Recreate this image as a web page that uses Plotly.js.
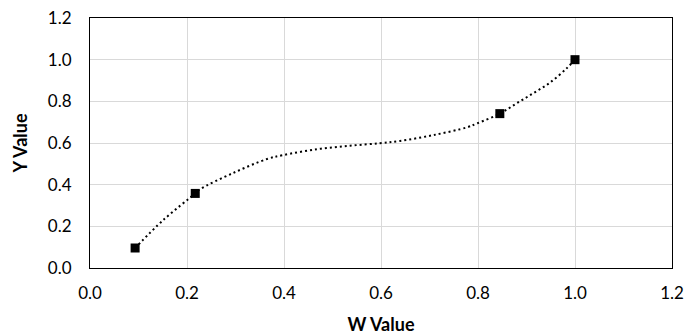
<!DOCTYPE html>
<html>
<head>
<meta charset="utf-8">
<script src="https://cdn.plot.ly/plotly-3.0.1.min.js"></script>
<style>html,body{margin:0;padding:0;background:#fff;}#chart{width:686px;height:335px;}</style>
</head>
<body>
<div id="chart"></div>
<script>
// Measured data points
var wValues = [0.093, 0.217, 0.845, 1.0];
var yValues = [0.096, 0.358, 0.741, 1.0];

// Dotted trendline
var trendW = [0.093, 0.151, 0.217, 0.227, 0.295, 0.365, 0.398, 0.468, 0.536, 0.598, 0.639, 0.708, 0.777, 0.799, 0.845, 0.880, 0.914, 0.948, 0.983, 1.0];
var trendY = [0.096, 0.230, 0.358, 0.378, 0.456, 0.523, 0.542, 0.570, 0.587, 0.599, 0.610, 0.638, 0.675, 0.695, 0.741, 0.791, 0.839, 0.889, 0.959, 1.0];

// Axis ticks
var tickVals = [0, 0.2, 0.4, 0.6, 0.8, 1.0, 1.2];
var tickText = ["0.0", "0.2", "0.4", "0.6", "0.8", "1.0", "1.2"];

var font = "Lato, 'Open Sans', sans-serif";

var traces = [
  {
    x: trendW, y: trendY, mode: "lines", type: "scatter",
    line: {color: "#000", width: 2, dash: "2px,3px", shape: "spline"},
    hoverinfo: "skip", showlegend: false
  },
  {
    x: wValues, y: yValues, mode: "markers", type: "scatter",
    marker: {symbol: "square", size: 9, color: "#000"},
    showlegend: false
  }
];

var axisCommon = {
  range: [0, 1.2],
  tickvals: tickVals,
  ticktext: tickText,
  showgrid: true,
  gridcolor: "#d9d9d9",
  gridwidth: 1,
  zeroline: false,
  showline: true,
  linecolor: "#000",
  linewidth: 1,
  mirror: true,
  ticks: "",
  tickfont: {family: font, size: 17, color: "#000"}
};

var layout = {
  width: 686, height: 335,
  margin: {l: 90, r: 14, t: 18, b: 67},
  paper_bgcolor: "#fff", plot_bgcolor: "#fff",
  showlegend: false,
  xaxis: Object.assign({}, axisCommon, {
    ticklabelstandoff: 10,
    title: {text: "<b>W Value</b>", font: {family: font, size: 18, color: "#000"}, standoff: 15}
  }),
  yaxis: Object.assign({}, axisCommon, {
    ticklabelstandoff: 14,
    title: {text: "<b>Y Value</b>", font: {family: font, size: 18, color: "#000"}, standoff: 15}
  })
};

Plotly.newPlot("chart", traces, layout, {displayModeBar: false, staticPlot: true});
</script>
</body>
</html>
